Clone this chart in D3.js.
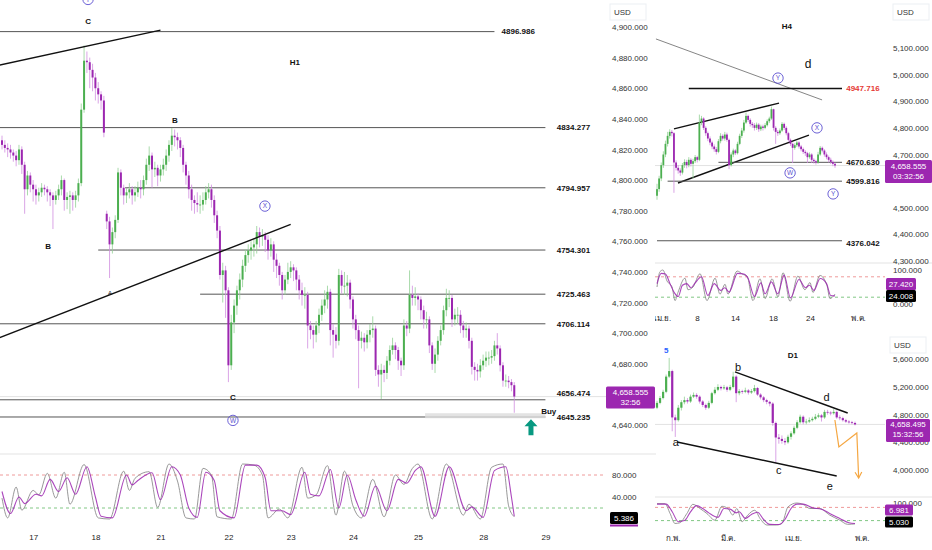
<!DOCTYPE html>
<html>
<head>
<meta charset="utf-8">
<script src="https://cdn.jsdelivr.net/npm/d3@7/dist/d3.min.js"></script>
<style>
  body { margin: 0; background: #fff; }
  svg { display: block; font-family: "Liberation Sans", Arial, "Noto Sans", "Noto Sans Thai", sans-serif; }
  .tick text { font-size: 8px; fill: #333; }
</style>
</head>
<body>
<svg id="chart" width="932" height="550"></svg>
<script>
// ---------- H1 data (gold, hourly) ----------
const h1FirstOpen = 4826;
// bars that opened on a gap: [bar index, open]
const h1GapOpens = [[37, 4778]];
const h1Close = [
  4823,4821,4820,4818,4816,4813,4820,4810,4794,4803,
  4797,4794,4790,4792,4795,4794,4792,4790,4787,4790,
  4794,4800,4787,4789,4790,4787,4790,4798,4846,4878,
  4877,4872,4867,4860,4856,4852,4831,4773,4758,4766,
  4774,4805,4795,4790,4792,4794,4790,4792,4795,4794,
  4800,4810,4816,4807,4808,4803,4807,4810,4816,4823,
  4829,4828,4826,4821,4810,4803,4794,4787,4785,4784,
  4784,4787,4792,4794,4787,4777,4767,4738,4741,4728,
  4679,4707,4718,4728,4735,4744,4751,4754,4756,4758,
  4766,4763,4764,4761,4754,4758,4748,4744,4738,4728,
  4735,4740,4743,4741,4735,4728,4725,4725,4705,4702,
  4699,4705,4712,4718,4722,4727,4702,4699,4695,4738,
  4731,4731,4733,4722,4709,4702,4695,4697,4694,4699,
  4702,4703,4676,4673,4676,4674,4682,4689,4692,4689,
  4682,4679,4705,4703,4725,4723,4724,4722,4715,4709,
  4709,4692,4680,4686,4695,4702,4715,4723,4723,4709,
  4712,4712,4705,4702,4703,4695,4678,4676,4675,4679,
  4682,4684,4684,4685,4692,4690,4679,4669,4669,4668,
  4666,4658.6
];
const h1High = [
  4829,4826,4824,4823,4820,4819,4823,4822,4812,4806,
  4805,4800,4797,4795,4798,4797,4796,4794,4792,4793,
  4797,4803,4801,4792,4793,4792,4793,4801,4850,4888,
  4884,4880,4876,4870,4864,4858,4855,4780,4776,4769,
  4777,4808,4807,4797,4795,4798,4796,4796,4799,4800,
  4803,4814,4822,4818,4812,4810,4810,4814,4820,4826,
  4834,4833,4831,4828,4823,4812,4806,4797,4790,4792,
  4790,4792,4796,4798,4797,4790,4780,4770,4746,4744,
  4730,4712,4722,4731,4739,4748,4755,4758,4760,4762,
  4770,4769,4768,4766,4764,4762,4760,4752,4746,4740,
  4738,4746,4747,4745,4743,4738,4733,4730,4727,4708,
  4705,4708,4716,4722,4728,4731,4729,4706,4704,4742,
  4741,4740,4738,4735,4724,4712,4705,4701,4700,4702,
  4706,4711,4705,4679,4680,4679,4685,4692,4697,4694,
  4691,4684,4709,4708,4741,4731,4730,4726,4724,4718,
  4714,4711,4694,4690,4698,4705,4718,4729,4728,4725,
  4716,4717,4715,4708,4707,4705,4697,4681,4680,4683,
  4686,4688,4688,4689,4695,4700,4692,4681,4673,4672,
  4670,4668
];
const h1Low = [
  4820,4818,4815,4814,4812,4809,4810,4804,4778,4790,
  4792,4786,4784,4786,4789,4790,4786,4783,4768,4784,
  4787,4790,4780,4781,4778,4780,4782,4786,4796,4844,
  4870,4860,4858,4852,4850,4846,4828,4768,4736,4752,
  4762,4772,4790,4784,4785,4788,4784,4786,4789,4788,
  4790,4797,4806,4795,4802,4796,4799,4803,4806,4812,
  4819,4822,4820,4815,4805,4797,4788,4780,4778,4779,
  4778,4780,4784,4788,4782,4772,4762,4735,4720,4710,
  4668,4676,4700,4712,4722,4730,4740,4746,4748,4750,
  4752,4756,4757,4753,4748,4750,4740,4736,4731,4722,
  4725,4732,4736,4734,4728,4722,4718,4716,4690,4696,
  4690,4694,4700,4708,4713,4716,4692,4684,4690,4692,
  4726,4725,4724,4716,4703,4696,4664,4690,4688,4690,
  4694,4697,4672,4665,4657,4668,4670,4679,4686,4683,
  4676,4672,4676,4698,4700,4718,4718,4715,4709,4703,
  4703,4687,4676,4674,4682,4692,4699,4711,4717,4704,
  4705,4706,4700,4697,4697,4690,4673,4669,4669,4671,
  4676,4678,4679,4680,4682,4686,4675,4665,4665,4664,
  4662,4648
];
// stochastic: [bar index, value]
const h1StochK = [[0,38],[2,2],[5,58],[7,16],[11,52],[13,44],[16,83],[19,38],[22,85],[24,27],[29,99],[34,2],[38,0],[43,87],[45,52],[47,74],[52,86],[55,21],[59,100],[62,69],[65,2],[68,0],[71,92],[74,80],[76,4],[81,0],[85,100],[89,98],[92,80],[94,2],[98,18],[101,2],[106,94],[108,38],[111,44],[115,97],[118,7],[121,87],[124,24],[127,2],[131,72],[135,4],[139,80],[142,63],[145,92],[147,100],[152,0],[157,100],[163,7],[165,27],[169,0],[173,94],[177,100],[179,24],[181,4]];
const h1StochD = [[0,50],[3,10],[6,40],[8,28],[12,45],[14,42],[17,72],[20,50],[23,75],[26,45],[30,95],[33,40],[35,5],[39,2],[44,80],[46,62],[48,70],[53,84],[56,35],[60,95],[63,80],[66,20],[69,3],[72,85],[75,70],[77,15],[82,2],[86,98],[90,98],[93,75],[95,15],[99,15],[102,8],[107,85],[109,45],[112,42],[116,90],[119,20],[122,80],[125,35],[128,5],[132,60],[136,15],[140,72],[143,65],[146,88],[148,95],[153,5],[158,95],[164,15],[166,22],[170,3],[174,88],[178,95],[180,40],[181,5]];
const h1Levels = [4896.986, 4834.277, 4794.957, 4754.301, 4725.463, 4706.114, 4656.474, 4645.235];
const h1LevelFrom = [-1, -1, 43.5, 34, 70, -1, -1, -1];
const h1LevelTo = [174, 192, 192, 192, 192, 192, 192, 192];
const h1PriceTicks = [4900, 4880, 4860, 4840, 4820, 4800, 4780, 4760, 4740, 4720, 4700, 4680, 4640];
const h1DayIdx = [11, 33, 56, 80, 102, 124, 147, 170, 192];
const h1DayLabels = ["17", "18", "21", "22", "23", "24", "25", "28", "29"];
const h1Trends = [[[-1, 4875], [56, 4898]], [[-1, 4697], [102, 4771]]];
const h1Notes = [["C", 30.4, 4904], ["B", 61.1, 4839], ["B", 16.3, 4757], ["C", 81.6, 4658], ["H1", 103.5, 4877]];
const h1Circles = [["Y", 30.4, 4918], ["X", 92.9, 4783], ["W", 81.6, 4643]];
const h1Last = 4658.555;

// ---------- H4 data ----------
const h4FirstOpen = 4545;
const h4Close = [
  4570,4610,4660,4700,4740,4770,4785,4780,4670,4650,
  4640,4632,4660,4672,4660,4680,4665,4675,4690,4680,
  4820,4835,4800,4780,4760,4745,4730,4720,4710,4750,
  4770,4760,4775,4755,4660,4700,4715,4705,4740,4770,
  4790,4820,4845,4830,4815,4810,4800,4812,4795,4805,
  4800,4810,4825,4835,4870,4800,4785,4780,4790,4815,
  4800,4780,4755,4740,4725,4735,4745,4730,4720,4710,
  4705,4690,4700,4680,4675,4670,4700,4725,4715,4700,
  4690,4680,4672,4665,4658.6
];
const h4High = [
  4590,4620,4670,4712,4752,4785,4795,4792,4784,4678,
  4660,4648,4668,4682,4680,4690,4686,4684,4698,4695,
  4850,4845,4840,4806,4786,4768,4752,4738,4728,4758,
  4780,4776,4785,4782,4760,4708,4722,4720,4748,4778,
  4800,4830,4858,4850,4836,4822,4818,4820,4818,4812,
  4812,4818,4832,4842,4880,4872,4806,4792,4798,4822,
  4820,4806,4785,4760,4745,4742,4752,4750,4736,4726,
  4716,4710,4708,4705,4686,4680,4710,4732,4730,4720,
  4708,4696,4688,4678,4670
];
const h4Low = [
  4530,4560,4600,4650,4690,4730,4760,4768,4556,4640,
  4628,4620,4625,4650,4648,4652,4655,4610,4668,4670,
  4675,4810,4792,4770,4750,4735,4720,4710,4700,4705,
  4742,4752,4752,4748,4645,4655,4690,4698,4700,4735,
  4762,4782,4815,4822,4805,4800,4790,4792,4785,4788,
  4790,4795,4805,4818,4830,4790,4740,4770,4774,4785,
  4792,4772,4748,4732,4668,4718,4728,4722,4712,4702,
  4695,4668,4684,4668,4666,4662,4665,4695,4708,4692,
  4682,4670,4664,4656,4650
];
const h4StochK = [[0,50],[1.4,95],[2.8,100],[4.7,68],[7.1,50],[8.5,10],[9.9,34],[13.2,76],[14.6,42],[17,50],[20.3,89],[23.6,10],[27.4,76],[29.7,29],[32.1,58],[33.5,29],[37.8,97],[40.6,87],[42.5,82],[45.3,10],[48.6,74],[51,16],[54.3,74],[57.1,21],[59.5,92],[62.8,8],[66.5,82],[69.8,42],[72.2,63],[73.6,34],[76.9,84],[80.2,55],[81.6,16],[84,29]];
const h4StochD = [[0,60],[2,90],[4,88],[6,62],[8,35],[10,22],[12,55],[14,60],[16,48],[18,62],[21,80],[24,25],[27,60],[30,40],[32,48],[34,35],[38,90],[41,88],[43,75],[46,22],[49,62],[51,30],[54,65],[57,30],[60,85],[63,18],[67,72],[70,48],[72,55],[74,40],[77,75],[80,60],[82,25],[84,24]];
const h4Levels = [4947.716, 4670.630, 4599.816, 4376.042];
const h4LevelFrom = [15, 29, 5, 0];
const h4PriceTicks = [5100, 5000, 4900, 4800, 4700, 4500, 4400, 4300];
const h4DayIdx = [2.4, 18.9, 36.8, 54.7, 72.2, 94.9];
const h4DayLabels = ["เม.ย.", "8", "14", "18", "24", "พ.ค."];
const h4Trends = [[[-0.5, 5134], [77.9, 4905]], [[8, 4796], [57.6, 4893]], [[9.9, 4593], [71.7, 4773]]];
const h4Notes = [["H4", 61.3, 5182]];
const h4Circles = [["Y", 57.1, 4987], ["X", 75.5, 4800], ["W", 62.8, 4631], ["Y", 83.1, 4552]];

// ---------- D1 data ----------
const d1FirstOpen = 4900;
const d1Close = [
  4970,5040,5130,5350,5430,4760,4720,4900,4980,5010,
  4990,5060,5085,5060,4990,4940,4900,4970,5110,5160,
  5200,5180,5195,5160,5200,5350,5110,5140,5130,5150,
  5120,5140,5185,5090,5050,5010,4985,4960,4680,4470,
  4450,4420,4400,4480,4530,4610,4690,4770,4690,4700,
  4720,4740,4770,4790,4760,4840,4830,4820,4840,4760,
  4750,4720,4700,4690,4680,4658.5
];
const d1High = [
  5000,5070,5160,5380,5620,5450,4800,4940,5010,5060,
  5040,5090,5120,5110,5080,5010,4960,5000,5130,5200,
  5240,5220,5230,5215,5230,5420,5370,5170,5160,5190,
  5170,5170,5230,5200,5110,5070,5030,5000,4980,4700,
  4520,4500,4460,4510,4560,4640,4720,4800,4790,4740,
  4760,4770,4810,4820,4810,4870,4870,4850,4880,4860,
  4790,4770,4740,4720,4710,4700
];
const d1Low = [
  4880,4950,5020,5110,5330,4560,4478,4700,4860,4950,
  4960,4970,5040,5030,4960,4910,4870,4880,4950,5090,
  5140,5150,5160,5130,5140,5180,4980,5080,5100,5110,
  5090,5100,5120,5070,5020,4980,4950,4920,4640,4100,
  4380,4380,4360,4380,4440,4510,4590,4670,4660,4660,
  4680,4700,4720,4750,4700,4740,4800,4790,4800,4740,
  4720,4700,4680,4670,4660,4645
];
const d1StochK = [[0,97],[2.6,97],[4.3,52],[5.9,7],[7.5,10],[9.8,52],[11.8,94],[14.1,75],[16.4,52],[19,22],[21.3,85],[23.3,75],[24.9,45],[26.2,75],[27.9,15],[29.8,45],[32.1,67],[33.8,30],[36.1,0],[39.3,0],[41,7],[43,82],[45.9,100],[47.9,94],[50.2,75],[53.4,75],[56.7,45],[60,22],[62.6,3],[65,5]];
const d1StochD = [[0,95],[3,95],[5,60],[7,15],[9,20],[11,60],[13,88],[15,75],[17,55],[20,35],[22,75],[24,72],[26,55],[27,60],[29,30],[31,48],[33,58],[35,25],[37,3],[40,2],[42,25],[44,75],[46,95],[48,95],[51,78],[54,72],[57,50],[60,30],[63,10],[65,7]];
const d1PriceTicks = [5600, 5200, 4800, 4400, 4000];
const d1MonthIdx = [5.2, 23.3, 44.6, 67.2];
const d1MonthLabels = ["ก.พ.", "มี.ค.", "เม.ย.", "พ.ค."];
const d1Trends = [[[25.6, 5417], [62.6, 4824]], [[6.6, 4405], [59, 3914]]];
const d1Notes = [["D1", 44.6, 5662], ["b", 26.6, 5489], ["d", 55.7, 5055], ["a", 6.2, 4405], ["c", 40, 4000], ["e", 56.7, 3769]];
const d1Projection = [[58.4, 4723], [59.7, 4333], [65.6, 4535], [66.2, 3885]];

// ---------- helpers ----------
const svg = d3.select("#chart");
const GREEN = "#4caf50", PURPLE = "#9c27b0", INK = "#111";

const clip = (id, x, y, w, h) => {
  svg.append("clipPath").attr("id", id).append("rect")
    .attr("x", x).attr("y", y).attr("width", w).attr("height", h);
  return svg.append("g").attr("clip-path", `url(#${id})`);
};

const drawCandles = (g, x, y, closes, highs, lows, firstOpen, bw, gaps = []) => {
  const gapMap = new Map(gaps);
  const rows = closes.map((c, i) => ({
    i, c, h: highs[i], l: lows[i],
    o: gapMap.has(i) ? gapMap.get(i) : (i ? closes[i - 1] : firstOpen)
  }));
  g.append("g").selectAll("line").data(rows).join("line")
    .attr("x1", d => x(d.i)).attr("x2", d => x(d.i))
    .attr("y1", d => y(d.h)).attr("y2", d => y(d.l))
    .attr("stroke", d => d.c >= d.o ? "#93d096" : "#d08ee0")
    .attr("stroke-width", 0.8);
  g.append("g").selectAll("rect").data(rows).join("rect")
    .attr("x", d => x(d.i) - bw / 2).attr("width", bw)
    .attr("y", d => y(Math.max(d.o, d.c)))
    .attr("height", d => Math.max(0.8, Math.abs(y(d.o) - y(d.c))))
    .attr("fill", d => d.c >= d.o ? GREEN : PURPLE);
};

const drawStoch = (g, x, y, k, d, x0, x1) => {
  [[80, "#ef9a9a"], [20, "#81c784"]].forEach(([v, col]) => {
    g.append("line").attr("x1", x0).attr("x2", x1)
      .attr("y1", y(v)).attr("y2", y(v))
      .attr("stroke", col).attr("stroke-dasharray", "3,3").attr("stroke-width", 1);
  });
  const line = d3.line().x(p => x(p[0])).y(p => y(p[1])).curve(d3.curveMonotoneX);
  g.append("path").datum(k).attr("d", line).attr("fill", "none").attr("stroke", "#8d8d8d").attr("stroke-width", 0.9);
  g.append("path").datum(d).attr("d", line).attr("fill", "none").attr("stroke", PURPLE).attr("stroke-width", 1.1).attr("opacity", 0.85);
};

const priceAxis = (x0, y, ticks) => {
  svg.append("g").attr("transform", `translate(${x0},0)`)
    .call(d3.axisRight(y).tickValues(ticks).tickSize(0).tickPadding(0).tickFormat(d3.format(",.3f")))
    .call(a => a.select(".domain").remove());
};

const timeAxis = (y0, x, idx, labels) => {
  svg.append("g").attr("transform", `translate(0,${y0})`)
    .call(d3.axisBottom(x).tickValues(idx).tickSize(0).tickPadding(2).tickFormat((d, i) => labels[i]))
    .call(a => a.select(".domain").remove())
    .selectAll("text").style("fill", "#222");
};

const tag = (x, yc, w, h, lines, fill) => {
  svg.append("rect").attr("x", x).attr("y", yc - h / 2).attr("width", w).attr("height", h)
    .attr("rx", 1.5).attr("fill", fill);
  lines.forEach((t, i) => {
    svg.append("text").attr("x", x + w / 2).attr("y", yc - h / 2 + 8.5 + i * 10)
      .attr("text-anchor", "middle").attr("font-size", 8).attr("fill", "#fff").text(t);
  });
};

const usdBox = (x, y) => {
  svg.append("rect").attr("x", x).attr("y", y).attr("width", 36).attr("height", 16)
    .attr("fill", "#fff").attr("stroke", "#eceff3");
  svg.append("text").attr("x", x + 4).attr("y", y + 11).attr("font-size", 8).attr("fill", "#333").text("USD");
};

const drawTrends = (g, x, y, trends, styleFn) => {
  g.selectAll(null).data(trends).join("line")
    .attr("x1", d => x(d[0][0])).attr("y1", d => y(d[0][1]))
    .attr("x2", d => x(d[1][0])).attr("y2", d => y(d[1][1]))
    .each(function (d, i) { styleFn(d3.select(this), i); });
};

const drawNotes = (g, x, y, notes, size, weight) => {
  g.selectAll(null).data(notes).join("text")
    .attr("x", d => x(d[1])).attr("y", d => y(d[2])).attr("dy", "0.35em")
    .attr("text-anchor", "middle").attr("font-size", size).attr("font-weight", weight)
    .attr("fill", INK).text(d => d[0]);
};

const drawCircles = (g, x, y, marks) => {
  const c = g.selectAll(null).data(marks).join("g")
    .attr("transform", d => `translate(${x(d[1])},${y(d[2])})`);
  c.append("circle").attr("r", 5.2).attr("fill", "none").attr("stroke", "#5b4fd0").attr("stroke-width", 0.9);
  c.append("text").attr("dy", "0.35em").attr("text-anchor", "middle")
    .attr("font-size", 6.5).attr("fill", "#5b4fd0").text(d => d[0]);
};

// ---------- H1 panel ----------
const h1x = d3.scaleLinear().domain([0, 215]).range([2, 610.5]);
const h1y = d3.scaleLinear().domain([4640, 4900]).range([425, 27]);
const h1sy = d3.scaleLinear().domain([0, 100]).range([519, 464]);
const h1 = clip("clipH1", 0, 0, 606, 453);

h1.append("line").attr("x1", 0).attr("x2", 606).attr("y1", h1y(h1Last)).attr("y2", h1y(h1Last))
  .attr("stroke", "#d6d6d6").attr("stroke-width", 0.7);

h1Levels.forEach((v, i) => {
  h1.append("line").attr("x1", h1x(h1LevelFrom[i])).attr("x2", h1x(h1LevelTo[i]))
    .attr("y1", h1y(v)).attr("y2", h1y(v)).attr("stroke", "#555").attr("stroke-width", 1);
  h1.append("text").attr("x", h1x(i === 0 ? 176.5 : 196)).attr("y", h1y(v))
    .attr("dy", i === 6 ? "-0.45em" : "0.35em")
    .attr("font-size", 8).attr("font-weight", "bold").attr("fill", INK)
    .text(v.toFixed(3));
});

// buy zone
h1.append("rect").attr("x", h1x(149.5)).attr("width", h1x(192) - h1x(149.5))
  .attr("y", h1y(4647.7)).attr("height", h1y(4644.4) - h1y(4647.7))
  .attr("fill", "#dcdcdc").attr("opacity", 0.8);

drawCandles(h1, h1x, h1y, h1Close, h1High, h1Low, h1FirstOpen, 2, h1GapOpens);

drawTrends(h1, h1x, h1y, h1Trends, s => s.attr("stroke", INK).attr("stroke-width", 1.4));
drawNotes(h1, h1x, h1y, h1Notes, 8, "bold");
h1.append("text").attr("x", h1x(38.2)).attr("y", h1y(4726)).attr("dy", "0.35em")
  .attr("text-anchor", "middle").attr("font-size", 6).attr("fill", INK).text("A");
drawCircles(h1, h1x, h1y, h1Circles);

h1.append("text").attr("x", h1x(190.5)).attr("y", h1y(4648.4)).attr("dy", "0.2em")
  .attr("font-size", 8).attr("font-weight", "bold").attr("fill", INK).text("Buy");

// green buy arrow
const ax = h1x(186.9), aTop = h1y(4643.8), aBot = h1y(4633.3);
h1.append("path")
  .attr("d", `M${ax},${aTop} L${ax + 6.5},${aTop + 7} L${ax + 2.5},${aTop + 7} L${ax + 2.5},${aBot} L${ax - 2.5},${aBot} L${ax - 2.5},${aTop + 7} L${ax - 6.5},${aTop + 7} Z`)
  .attr("fill", "#089981");

// H1 stochastic
svg.append("line").attr("x1", 0).attr("x2", 656).attr("y1", 454).attr("y2", 454).attr("stroke", "#e3e3e3");
drawStoch(svg.append("g"), h1x, h1sy, h1StochK, h1StochD, 0, 606);

priceAxis(612, h1y, h1PriceTicks);
priceAxis(612, h1sy, [80, 40]);
timeAxis(532, h1x, h1DayIdx, h1DayLabels);
usdBox(610, 4);
tag(606, h1y(h1Last) + 1, 49, 22, ["4,658.555", "32:56"], PURPLE);
tag(610, 518, 28, 12, ["5.386"], "#000");
svg.append("rect").attr("x", 610).attr("y", 524.5).attr("width", 28).attr("height", 2).attr("fill", PURPLE);

// ---------- H4 panel ----------
const h4x = d3.scaleLinear().domain([0, 84]).range([657, 835]);
const h4y = d3.scaleLinear().domain([4300, 5100]).range([261, 48]);
const h4sy = d3.scaleLinear().domain([0, 100]).range([304, 270]);
const h4 = clip("clipH4", 655, 0, 230, 262);

h4.append("line").attr("x1", 655).attr("x2", 885).attr("y1", h4y(4658.555)).attr("y2", h4y(4658.555))
  .attr("stroke", "#d6d6d6").attr("stroke-width", 0.7);
drawTrends(h4, h4x, h4y, h4Trends, (s, i) => s.attr("stroke", i === 0 ? "#777" : INK).attr("stroke-width", i === 0 ? 0.9 : 1.4));
h4Levels.forEach((v, i) => {
  h4.append("line").attr("x1", h4x(h4LevelFrom[i])).attr("x2", h4x(87.3))
    .attr("y1", h4y(v)).attr("y2", h4y(v)).attr("stroke", i === 0 ? INK : "#555").attr("stroke-width", i === 0 ? 1.4 : 1);
  h4.append("text").attr("x", h4x(89.3)).attr("y", h4y(v)).attr("dy", i === 3 ? "0.7em" : "0.35em")
    .attr("font-size", 8).attr("font-weight", "bold").attr("fill", i === 0 ? "#e53935" : INK)
    .text(v.toFixed(3));
});
drawCandles(h4, h4x, h4y, h4Close, h4High, h4Low, h4FirstOpen, 1.8);
drawNotes(h4, h4x, h4y, h4Notes, 8, "bold");
h4.append("text").attr("x", h4x(71.3)).attr("y", h4y(5040)).attr("dy", "0.35em")
  .attr("text-anchor", "middle").attr("font-size", 12).attr("fill", INK).text("d");
drawCircles(h4, h4x, h4y, h4Circles);

svg.append("line").attr("x1", 655).attr("x2", 932).attr("y1", 263).attr("y2", 263).attr("stroke", "#e3e3e3");
drawStoch(svg.append("g"), h4x, h4sy, h4StochK, h4StochD, 655, 885);

priceAxis(893, h4y, h4PriceTicks);
priceAxis(893, h4sy, [100, 0]);
const h4Axis = clip("clipH4Axis", 655, 300, 277, 40);
h4Axis.append("g").attr("transform", "translate(0,313)")
  .call(d3.axisBottom(h4x).tickValues(h4DayIdx).tickSize(0).tickPadding(2).tickFormat((d, i) => h4DayLabels[i]))
  .call(a => a.select(".domain").remove())
  .selectAll("text").style("fill", "#222");
usdBox(893, 4);
tag(885, h4y(4658.555) + 6, 47, 23, ["4,658.555", "03:32:56"], PURPLE);
tag(886, 284, 30, 12, ["27.420"], PURPLE);
tag(886, 296, 30, 12, ["24.008"], "#000");

// ---------- D1 panel ----------
const d1x = d3.scaleLinear().domain([0, 65]).range([657, 855]);
const d1y = d3.scaleLinear().domain([4000, 5600]).range([470, 359.3]);
const d1sy = d3.scaleLinear().domain([0, 100]).range([525, 503]);
const d1 = clip("clipD1", 655, 336, 230, 160);

d1.append("line").attr("x1", 655).attr("x2", 885).attr("y1", d1y(4658.495)).attr("y2", d1y(4658.495))
  .attr("stroke", "#d6d6d6").attr("stroke-width", 0.7);
drawCandles(d1, d1x, d1y, d1Close, d1High, d1Low, d1FirstOpen, 2.2);
drawTrends(d1, d1x, d1y, d1Trends, s => s.attr("stroke", INK).attr("stroke-width", 1.4));
drawNotes(d1, d1x, d1y, d1Notes.slice(0, 1), 8, "bold");
drawNotes(d1, d1x, d1y, d1Notes.slice(1), 11, "normal");
d1.append("text").attr("x", d1x(3)).attr("y", d1y(5735)).attr("dy", "0.35em")
  .attr("text-anchor", "middle").attr("font-size", 8).attr("font-weight", "bold").attr("fill", "#2962ff").text("5");

svg.append("defs").append("marker").attr("id", "arrow").attr("viewBox", "0 0 10 10")
  .attr("refX", 8).attr("refY", 5).attr("markerWidth", 7).attr("markerHeight", 7).attr("orient", "auto")
  .append("path").attr("d", "M1,1 L8,5 L1,9").attr("fill", "none").attr("stroke", "#f5a742").attr("stroke-width", 1.4);
d1.append("path").datum(d1Projection)
  .attr("d", d3.line().x(p => d1x(p[0])).y(p => d1y(p[1])))
  .attr("fill", "none").attr("stroke", "#f5a742").attr("stroke-width", 1.2)
  .attr("marker-end", "url(#arrow)");

svg.append("line").attr("x1", 655).attr("x2", 932).attr("y1", 497).attr("y2", 497).attr("stroke", "#e3e3e3");
drawStoch(svg.append("g"), d1x, d1sy, d1StochK, d1StochD, 655, 885);

priceAxis(893, d1y, d1PriceTicks);
priceAxis(893, d1sy, [100]);
timeAxis(533, d1x, d1MonthIdx, d1MonthLabels);
usdBox(890, 337);
tag(886, d1y(4658.495) + 6, 44, 23, ["4,658.495", "15:32:56"], PURPLE);
tag(885, 510, 28, 11, ["6.981"], PURPLE);
tag(885, 522, 28, 11, ["5.030"], "#000");
</script>
</body>
</html>
